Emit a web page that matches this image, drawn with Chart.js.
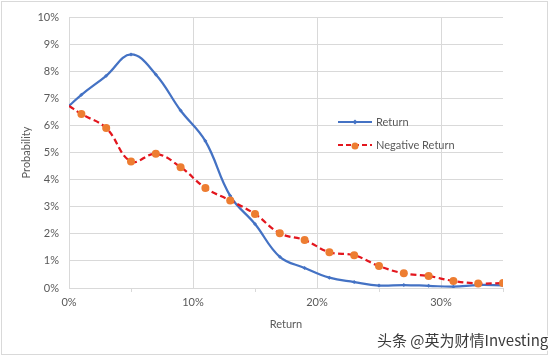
<!DOCTYPE html>
<html><head><meta charset="utf-8">
<script src="https://cdn.jsdelivr.net/npm/chart.js@4/dist/chart.umd.min.js"></script>
<style>html,body{margin:0;padding:0;background:#fff}#wrap{width:552px;height:357px;position:relative}</style>
</head><body><div id="wrap"><canvas id="c" width="552" height="357"></canvas></div>
<script>
const returnPoints = [0, 1, 3, 5, 7, 9, 11, 13, 15, 17, 19, 21, 23, 25, 27, 29, 31, 33, 35];
const returnProb = [6.72, 7.13, 7.83, 8.62, 7.88, 6.55, 5.42, 3.40, 2.36, 1.15, 0.74, 0.38, 0.22, 0.09, 0.11, 0.08, 0.05, 0.11, 0.10];
const negativeProb = [6.72, 6.42, 5.90, 4.67, 4.95, 4.46, 3.69, 3.23, 2.73, 2.02, 1.77, 1.32, 1.21, 0.81, 0.54, 0.44, 0.26, 0.17, 0.18];
const seriesNames = ['Return', 'Negative Return'];
const xTitle = 'Return';
const yTitle = 'Probability';
const watermark = '头条 @英为财情Investing';

const BLUE = '#4472C4', RED = '#E3161E', ORANGE = '#ED7D31', GRID = '#D9D9D9', TXT = '#595959';
const FONT = 'Lato, "Liberation Sans", sans-serif';

const toXY = vals => vals.map((v, i) => ({x: returnPoints[i], y: v}));

const decor = {
  id: 'decor',
  beforeDraw(chart) {
    const ctx = chart.ctx;
    ctx.save();
    ctx.fillStyle = '#fff';
    ctx.fillRect(0, 0, chart.width, chart.height);
    ctx.restore();
  },
  afterDraw(chart) {
    const ctx = chart.ctx;
    ctx.save();
    // outer border
    ctx.strokeStyle = '#D9D9D9';
    ctx.lineWidth = 1;
    ctx.strokeRect(1.5, 1.5, 546, 353);
    // legend
    const lx = 338, lw = 34;
    const items = [
      {y: 122, color: BLUE, dash: [], marker: 'diamond'},
      {y: 145, color: RED, dash: [5, 3], marker: 'circle'}
    ];
    items.forEach((it, i) => {
      ctx.strokeStyle = it.color;
      ctx.lineWidth = 2;
      ctx.setLineDash(it.dash);
      ctx.beginPath(); ctx.moveTo(lx, it.y); ctx.lineTo(lx + lw, it.y); ctx.stroke();
      ctx.setLineDash([]);
      const cx = lx + lw / 2;
      if (it.marker === 'circle') {
        ctx.fillStyle = ORANGE;
        ctx.beginPath(); ctx.arc(cx, it.y + 1, 3.5, 0, Math.PI * 2); ctx.fill();
      } else {
        ctx.fillStyle = BLUE;
        ctx.beginPath(); ctx.moveTo(cx, it.y - 2.5); ctx.lineTo(cx + 2.5, it.y); ctx.lineTo(cx, it.y + 2.5); ctx.lineTo(cx - 2.5, it.y); ctx.closePath(); ctx.fill();
      }
      ctx.fillStyle = TXT;
      ctx.font = '11px ' + FONT;
      ctx.textBaseline = 'middle';
      ctx.textAlign = 'left';
      ctx.fillText(seriesNames[i], lx + lw + 4, it.y);
    });
    // watermark
    ctx.font = '15px "Noto Sans CJK SC", sans-serif';
    ctx.textAlign = 'left';
    ctx.textBaseline = 'middle';
    ctx.lineWidth = 3;
    ctx.strokeStyle = 'rgba(255,255,255,0.9)';
    ctx.strokeText(watermark, 377, 340);
    ctx.fillStyle = '#3a3a3a';
    ctx.fillText(watermark, 377, 340);
    ctx.restore();
  }
};

new Chart(document.getElementById('c'), {
  type: 'line',
  data: {
    datasets: [
      {
        label: seriesNames[0],
        data: toXY(returnProb),
        borderColor: BLUE,
        backgroundColor: BLUE,
        borderWidth: 2.25,
        pointStyle: 'rectRot',
        pointRadius: ctx => ctx.dataIndex === 0 ? 0 : 2,
        pointBorderWidth: 0,
        tension: 0.4,
        cubicInterpolationMode: 'default',
        fill: false,
        order: 2
      },
      {
        label: seriesNames[1],
        data: toXY(negativeProb),
        borderColor: RED,
        backgroundColor: ORANGE,
        borderWidth: 2.25,
        borderDash: [6, 3.5],
        pointStyle: 'circle',
        pointRadius: ctx => ctx.dataIndex === 0 ? 0 : 4,
        pointBorderWidth: 0,
        pointBackgroundColor: ORANGE,
        tension: 0.4,
        fill: false,
        order: 1
      }
    ]
  },
  options: {
    responsive: false,
    animation: false,
    devicePixelRatio: 1,
    layout: {padding: {left: 0, right: 49, top: 17, bottom: 0}},
    plugins: {legend: {display: false}, tooltip: {enabled: false}},
    elements: {line: {capBezierPoints: true}},
    scales: {
      x: {
        type: 'linear', min: 0, max: 35,
        afterFit: s => { s.height = 69; },
        border: {display: true, color: GRID, width: 1},
        grid: {
          color: c => (c.tick && c.tick.value % 10 === 0) ? GRID : 'rgba(0,0,0,0)',
          tickColor: c => (c.tick && c.tick.value % 10 === 0) ? 'rgba(0,0,0,0)' : GRID,
          tickLength: 4, drawTicks: true
        },
        ticks: {
          stepSize: 5, autoSkip: false, maxRotation: 0, color: TXT, padding: 4,
          font: {family: FONT, size: 11},
          callback: v => (v % 10 === 0 ? v + '%' : '')
        },
        title: {display: true, text: xTitle, color: TXT, font: {family: FONT, size: 11}, padding: {top: 0, bottom: 26}}
      },
      y: {
        min: 0, max: 10,
        afterFit: s => { s.width = 69; },
        border: {display: true, color: GRID, width: 1},
        grid: {color: GRID, drawTicks: false},
        ticks: {
          stepSize: 1, color: TXT, padding: 10,
          font: {family: FONT, size: 11},
          callback: v => v + '%'
        },
        title: {display: true, text: yTitle, color: TXT, font: {family: FONT, size: 11}, padding: {top: 20, bottom: 0}}
      }
    }
  },
  plugins: [decor]
});
</script></body></html>
